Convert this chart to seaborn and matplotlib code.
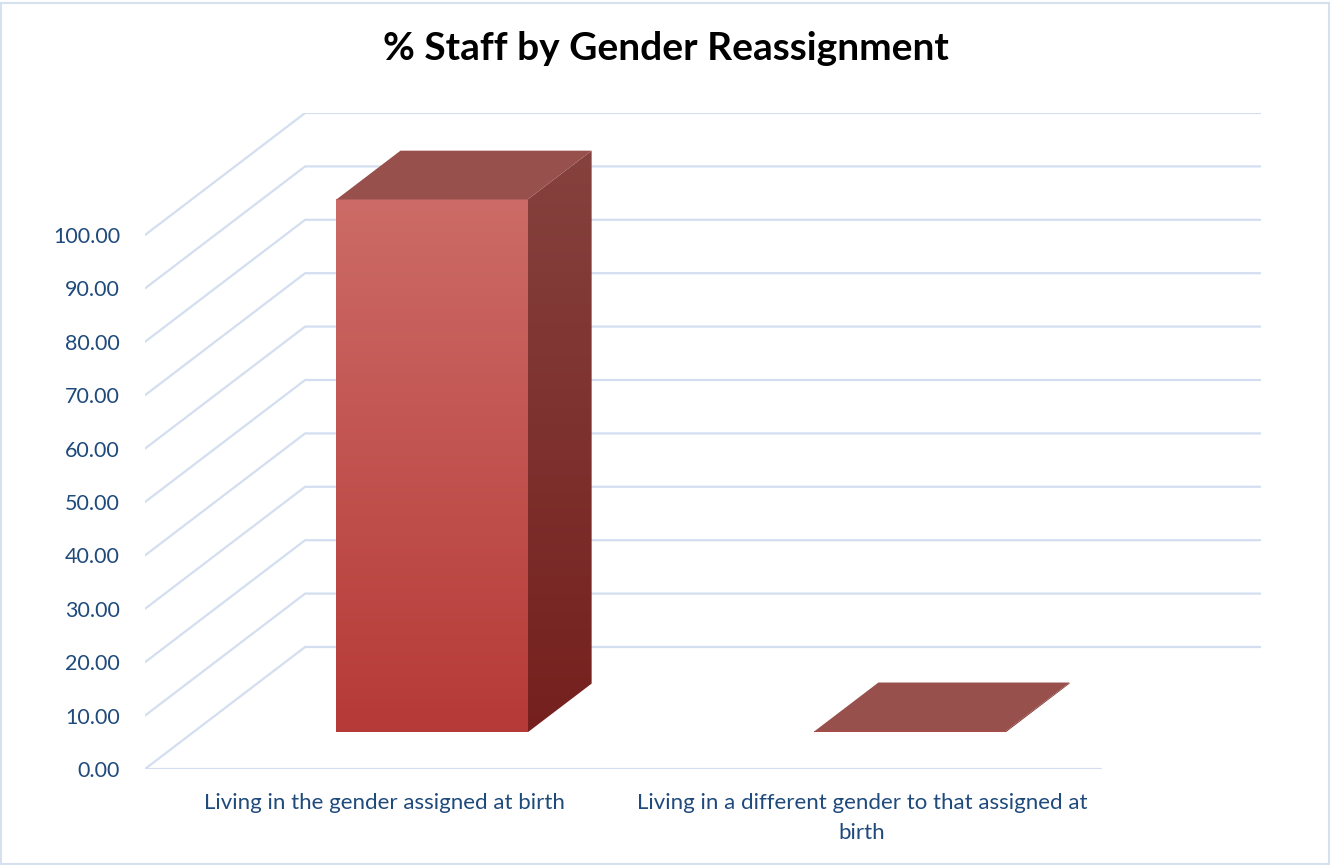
import numpy as np
import pandas as pd
import matplotlib
matplotlib.use("Agg")
import matplotlib.pyplot as plt
from matplotlib.patches import Polygon, Rectangle
from matplotlib.colors import LinearSegmentedColormap
import seaborn as sns

categories = ["Living in the gender assigned at birth",
              "Living in a different gender to that assigned at\nbirth"]
values = [99.8, 0.2]
y_ticks = np.arange(0, 101, 10)
title = "% Staff by Gender Reassignment"

# fake 3D: depth shifts a point right and up (data units per unit depth)
depth_x, depth_y = 0.335, 22.85
z_front, z_bar0, z_bar1, z_back = -0.3, 0.0, 0.4, 0.7
x_left, x_right = -0.5, 1.5
bar_w = 0.4

grid_c = "#d3dff0"
text_c = "#1f4a7c"


def proj(x, v, z):
    return x + depth_x * z, v + depth_y * z


sns.set_theme(style="white")
plt.rcParams["font.family"] = ["Lato", "DejaVu Sans"]

fig = plt.figure(figsize=(13.32, 8.65), dpi=100)
ax = fig.add_axes([145 / 1332, (865 - 769) / 865, (1261 - 145) / 1332, (769 - 113) / 865])
ax.patch.set_alpha(0)

df = pd.DataFrame({"category": categories, "value": values})
sns.barplot(data=df, x="category", y="value", width=bar_w, color="#c0504d",
            linewidth=0, ax=ax, zorder=3)

# walls and floor
for v in y_ticks:
    pts = [proj(x_left, v, z_front), proj(x_left, v, z_back), proj(x_right, v, z_back)]
    ax.plot([p[0] for p in pts], [p[1] for p in pts], color=grid_c, lw=1.6, zorder=1)
p0, p1 = proj(x_left, 0, z_front), proj(x_right, 0, z_front)
ax.plot([p0[0], p1[0]], [p0[1], p1[1]], color=grid_c, lw=1.6, zorder=1)

grad = np.linspace(0, 1, 256).reshape(-1, 1)
front_cmap = LinearSegmentedColormap.from_list("front", ["#b63a37", "#cc6b67"])
side_cmap = LinearSegmentedColormap.from_list("side", ["#75201e", "#86423e"])

for patch, val in zip(list(ax.patches), values):
    x0 = patch.get_x()
    x1 = x0 + patch.get_width()
    im = ax.imshow(grad, cmap=front_cmap, extent=[x0, x1, 0, val], origin="lower",
                   aspect="auto", zorder=3)
    im.set_clip_path(patch)
    patch.set_facecolor("none")

    side = [proj(x1, 0, z_bar0), proj(x1, 0, z_bar1), proj(x1, val, z_bar1), proj(x1, val, z_bar0)]
    side_poly = Polygon(side, closed=True, fc="none", ec="none", zorder=3)
    ax.add_patch(side_poly)
    sx = [p[0] for p in side]
    sy = [p[1] for p in side]
    im2 = ax.imshow(grad, cmap=side_cmap, extent=[min(sx), max(sx), min(sy), max(sy)],
                    origin="lower", aspect="auto", zorder=3)
    im2.set_clip_path(side_poly)

    top = [proj(x0, val, z_bar0), proj(x1, val, z_bar0), proj(x1, val, z_bar1), proj(x0, val, z_bar1)]
    ax.add_patch(Polygon(top, closed=True, fc="#98504c", ec="none", zorder=4))

ax.set_yticks([proj(0, v, z_front)[1] for v in y_ticks], [f"{v:.2f}" for v in y_ticks])
ax.set_xticks([proj(i, 0, z_front)[0] for i in range(len(categories))], categories)
ax.tick_params(length=0, labelcolor=text_c)
ax.tick_params(axis="y", pad=18, labelsize=15.5)
ax.tick_params(axis="x", pad=17, labelsize=16)
for lab in ax.get_xticklabels():
    lab.set_linespacing(1.65)
ax.set_xlim(proj(x_left, 0, z_front)[0], proj(x_right, 0, z_back)[0])
ax.set_ylim(proj(0, 0, z_front)[1], proj(0, 100, z_back)[1])
ax.set_xlabel("")
ax.set_ylabel("")
sns.despine(ax=ax, left=True, bottom=True)

fig.text(0.5, 1 - 49 / 865, title, ha="center", va="center", fontsize=28,
         fontweight="bold", color="black")
fig.add_artist(Rectangle((0.001, 0.001), 0.997, 0.996, transform=fig.transFigure,
                         fill=False, ec="#d6e1f0", lw=1.5))

fig.savefig("out.png", dpi=100)
